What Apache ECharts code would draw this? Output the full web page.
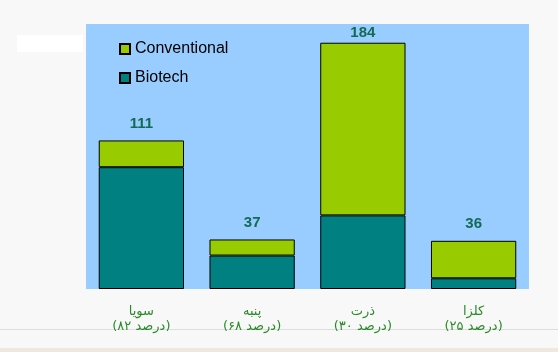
<!DOCTYPE html>
<html>
<head>
<meta charset="utf-8">
<script src="https://cdn.jsdelivr.net/npm/echarts@6/dist/echarts.min.js"></script>
<style>
  html, body { margin: 0; padding: 0; background: #f8f8f8; }
  #chart { width: 558px; height: 352px; }
</style>
</head>
<body>
<div id="chart"></div>
<script>
// محصولات و سهم تراریخته
var crops = ['سویا', 'پنبه', 'ذرت', 'کلزا'];
var shares = ['(۸۲ درصد)', '(۶۸ درصد)', '(۳۰ درصد)', '(۲۵ درصد)'];
var biotech = [91, 25, 55, 8];
var conventional = [20, 12, 129, 28];
var totals = [111, 37, 184, 36];

// LRM so the percentage line keeps the original left-to-right order
var categories = crops.map(function (c, i) { return c + '\n\u200E' + shares[i]; });
var maxTotal = Math.max.apply(null, totals);

var chart = echarts.init(document.getElementById('chart'));

var option = {
    backgroundColor: '#f8f8f8',
    animation: false,
    grid: {
        left: 86,
        right: 29,
        top: 24,
        bottom: 63,
        show: true,
        backgroundColor: '#99ccff',
        borderWidth: 0
    },
    legend: {
        orient: 'vertical',
        left: 114,
        top: 36,
        itemWidth: 10,
        itemHeight: 10,
        itemGap: 13,
        icon: 'rect',
        data: ['Conventional', 'Biotech'],
        textStyle: {
            fontFamily: 'Arial, Liberation Sans, sans-serif',
            fontSize: 16,
            color: '#000'
        }
    },
    xAxis: {
        type: 'category',
        data: categories,
        axisLine: { show: false },
        axisTick: { show: false },
        axisLabel: {
            margin: 15,
            color: '#2a8a2a',
            fontFamily: 'DejaVu Sans, sans-serif',
            fontSize: 13,
            lineHeight: 15
        }
    },
    yAxis: {
        type: 'value',
        min: 0,
        max: 198,
        show: false,
        splitLine: { show: false }
    },
    series: [
        {
            name: 'Biotech',
            type: 'bar',
            stack: 'total',
            barCategoryGap: '23%',
            data: biotech,
            itemStyle: { color: '#008080', borderColor: '#000', borderWidth: 1 }
        },
        {
            name: 'Conventional',
            type: 'bar',
            stack: 'total',
            barCategoryGap: '23%',
            data: conventional.map(function (v, i) {
                // the tallest bar's label sits tight against the plot top
                return totals[i] === maxTotal ? { value: v, label: { distance: 2 } } : v;
            }),
            itemStyle: { color: '#99cc00', borderColor: '#000', borderWidth: 1 },
            label: {
                show: true,
                position: 'top',
                distance: 9,
                formatter: function (p) { return totals[p.dataIndex]; },
                color: '#136b55',
                fontWeight: 'bold',
                fontSize: 15,
                fontFamily: 'Arial, Liberation Sans, sans-serif'
            }
        }
    ],
    graphic: [
        { type: 'rect', shape: { x: 17, y: 35, width: 66, height: 17 }, style: { fill: '#ffffff' } },
        { type: 'line', shape: { x1: 0, y1: 329.5, x2: 558, y2: 329.5 }, style: { stroke: '#dddddd', lineWidth: 1 } },
        { type: 'rect', shape: { x: 0, y: 348, width: 558, height: 4 }, style: { fill: '#efe8dc' } }
    ]
};

chart.setOption(option);
</script>
</body>
</html>
